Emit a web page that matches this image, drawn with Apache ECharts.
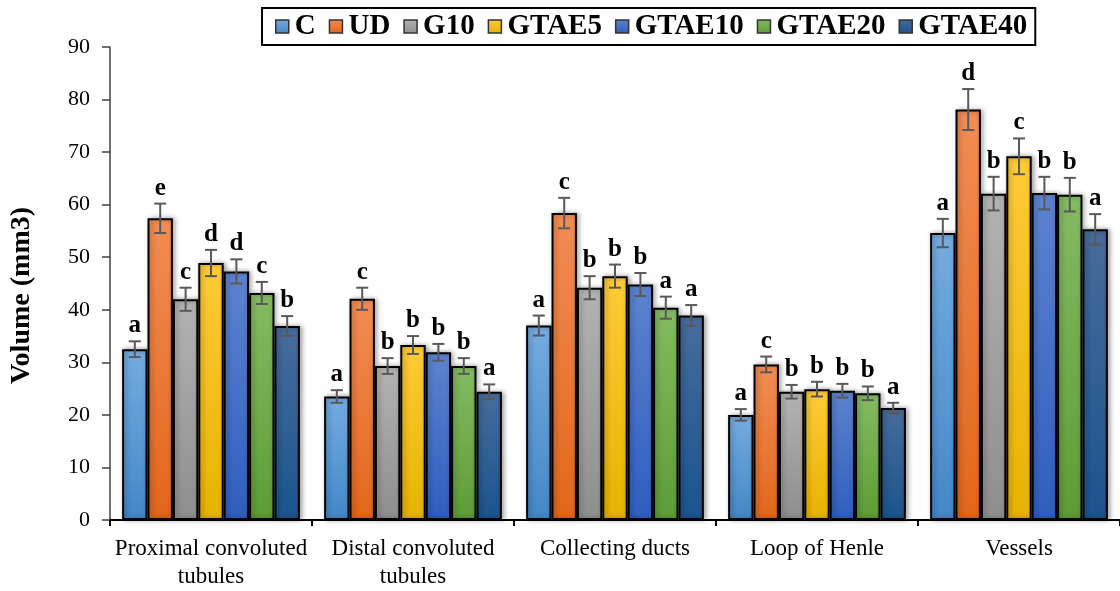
<!DOCTYPE html>
<html>
<head>
<meta charset="utf-8">
<script src="https://cdn.jsdelivr.net/npm/echarts@6/dist/echarts.min.js"></script>
<style>
  html, body { margin: 0; padding: 0; background: #fff; }
  #chart { width: 1120px; height: 591px; }
</style>
</head>
<body>
<div id="chart"></div>
<script>
// Kidney compartment volumes (mm3) per treatment group
const categories = ['Proximal convoluted\ntubules', 'Distal convoluted\ntubules', 'Collecting ducts', 'Loop of Henle', 'Vessels'];
const groups = ['C', 'UD', 'G10', 'GTAE5', 'GTAE10', 'GTAE20', 'GTAE40'];

const valC      = [32.5, 23.5, 37.0, 20.0, 54.6];
const valUD     = [57.4, 42.1, 58.4, 29.6, 78.1];
const valG10    = [42.0, 29.3, 44.2, 24.4, 62.1];
const valGTAE5  = [48.9, 33.3, 46.4, 24.9, 69.2];
const valGTAE10 = [47.3, 31.9, 44.8, 24.6, 62.2];
const valGTAE20 = [43.2, 29.3, 40.4, 24.1, 61.9];
const valGTAE40 = [36.9, 24.4, 38.9, 21.3, 55.3];

const errC      = [1.5, 1.2, 1.9, 1.1, 2.7];
const errUD     = [2.8, 2.1, 2.9, 1.5, 3.9];
const errG10    = [2.2, 1.5, 2.2, 1.3, 3.2];
const errGTAE5  = [2.5, 1.7, 2.2, 1.4, 3.4];
const errGTAE10 = [2.3, 1.6, 2.2, 1.3, 3.1];
const errGTAE20 = [2.1, 1.5, 2.1, 1.3, 3.2];
const errGTAE40 = [1.9, 1.4, 2.0, 1.0, 2.9];

const sigC      = ['a', 'a', 'a', 'a', 'a'];
const sigUD     = ['e', 'c', 'c', 'c', 'd'];
const sigG10    = ['c', 'b', 'b', 'b', 'b'];
const sigGTAE5  = ['d', 'b', 'b', 'b', 'c'];
const sigGTAE10 = ['d', 'b', 'b', 'b', 'b'];
const sigGTAE20 = ['c', 'b', 'a', 'b', 'b'];
const sigGTAE40 = ['b', 'a', 'a', 'a', 'a'];

const yTicks = { min: 0, max: 90, interval: 10 };

const values  = [valC, valUD, valG10, valGTAE5, valGTAE10, valGTAE20, valGTAE40];
const errors  = [errC, errUD, errG10, errGTAE5, errGTAE10, errGTAE20, errGTAE40];
const letters = [sigC, sigUD, sigG10, sigGTAE5, sigGTAE10, sigGTAE20, sigGTAE40];

// top / bottom colours of each bar's vertical gradient
const palette = [
  ['#74acdf', '#4387c7'],
  ['#f28d55', '#e2661a'],
  ['#b3b3b3', '#8e8e8e'],
  ['#ffcb38', '#e6b300'],
  ['#5e83cf', '#2e5ebf'],
  ['#84bb63', '#5d9c35'],
  ['#476c9c', '#1a548e']
];

const SERIF = '"Liberation Serif", "DejaVu Serif", serif';
const CAT_GAP = 0.12;

function grad(c) {
  return new echarts.graphic.LinearGradient(0, 0, 0, 1, [
    { offset: 0, color: c[0] },
    { offset: 1, color: c[1] }
  ]);
}

const barSeries = groups.map((g, i) => ({
  name: g,
  type: 'bar',
  data: values[i],
  barGap: '0%',
  barCategoryGap: (CAT_GAP * 100) + '%',
  itemStyle: {
    color: grad(palette[i]),
    borderColor: '#000',
    borderWidth: 2,
    shadowColor: 'rgba(0,0,0,0.35)',
    shadowBlur: 5,
    shadowOffsetX: 2,
    shadowOffsetY: 0
  },
  emphasis: { disabled: true },
  z: 2
}));

// one row per bar: [category index, group index, mean, error, letter]
const errRows = [];
groups.forEach((g, s) => {
  categories.forEach((c, k) => {
    errRows.push([k, s, values[s][k], errors[s][k], letters[s][k]]);
  });
});

const errSeries = {
  type: 'custom',
  name: 'error',
  data: errRows,
  encode: { x: 0, y: 2 },
  z: 5,
  silent: true,
  renderItem: function (params, api) {
    const k = api.value(0);
    const s = api.value(1);
    const v = api.value(2);
    const e = api.value(3);
    const letter = errRows[params.dataIndex][4];
    const band = api.size([1, 0])[0];
    const bw = band * (1 - CAT_GAP) / groups.length;
    const cx = api.coord([k, 0])[0] + (s - (groups.length - 1) / 2) * bw;
    const yHi = api.coord([k, v + e])[1];
    const yLo = api.coord([k, v - e])[1];
    const cap = 6;
    const ls = { stroke: '#595959', lineWidth: 2 };
    return {
      type: 'group',
      children: [
        { type: 'line', shape: { x1: cx, y1: yHi, x2: cx, y2: yLo }, style: ls },
        { type: 'line', shape: { x1: cx - cap, y1: yHi, x2: cx + cap, y2: yHi }, style: ls },
        { type: 'line', shape: { x1: cx - cap, y1: yLo, x2: cx + cap, y2: yLo }, style: ls },
        {
          type: 'text',
          style: {
            text: letter,
            x: cx,
            y: yHi - 3,
            align: 'center',
            verticalAlign: 'bottom',
            fill: '#000',
            font: 'bold 25px ' + SERIF
          }
        }
      ]
    };
  }
};

const chart = echarts.init(document.getElementById('chart'), null, { renderer: 'canvas' });

chart.setOption({
  animation: false,
  backgroundColor: '#fff',
  grid: { left: 110, right: -9, top: 47, bottom: 64, containLabel: false },
  legend: {
    data: groups,
    top: 8,
    left: 262,
    width: 820,
    padding: [4, 8, 4, 13],
    borderColor: '#000',
    borderWidth: 2,
    itemWidth: 13,
    itemHeight: 13,
    itemGap: 13,
    icon: 'rect',
    itemStyle: { borderColor: '#333', borderWidth: 1.5, shadowBlur: 0, shadowOffsetX: 0 },
    textStyle: { fontFamily: SERIF, fontWeight: 'bold', fontSize: 29, color: '#000', padding: [0, 0, 0, 1] }
  },
  xAxis: {
    type: 'category',
    data: categories,
    axisLine: { lineStyle: { color: '#000', width: 2 } },
    axisTick: { show: true, length: 6, lineStyle: { color: '#000', width: 2 } },
    axisLabel: {
      fontFamily: SERIF,
      fontSize: 23,
      color: '#000',
      margin: 15,
      lineHeight: 28,
      interval: 0
    }
  },
  yAxis: {
    type: 'value',
    min: yTicks.min,
    max: yTicks.max,
    interval: yTicks.interval,
    name: 'Volume (mm3)',
    nameLocation: 'middle',
    nameGap: 74,
    nameTextStyle: { fontFamily: SERIF, fontWeight: 'bold', fontSize: 28, color: '#000', padding: [0, 24, 0, 0] },
    axisLine: { show: true, lineStyle: { color: '#404040', width: 1.5 } },
    axisTick: { show: true, length: 8, lineStyle: { color: '#404040', width: 1.5 } },
    axisLabel: { fontFamily: SERIF, fontSize: 22, color: '#000', margin: 20 },
    splitLine: { show: false }
  },
  series: barSeries.concat([errSeries])
});
</script>
</body>
</html>
